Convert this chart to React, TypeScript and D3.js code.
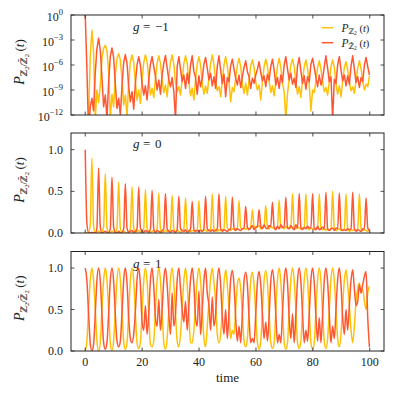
import React from "react";
import * as d3 from "d3";

// time step between samples (half-period 2.35 split in 4)
const timeStep = 0.5875;
const xTickValues = [0, 20, 40, 60, 80, 100];
const logTickExponents = [0, -3, -6, -9, -12];
const linTickValues = [0, 0.5, 1.0];
const gLabels = ["\u22121", "0", "1"];
const seriesColors = ["#FFC107", "#FF5733"];

// g = -1 : log10 of probabilities
const gNeg1YellowLog10 = [
  -14, -14, -12, -5,
  -1.85, -4.5, -12.5, -9, -10.5, -8.5, -5.2, -4.0,
  -3.64, -4.3, -6.8, -12.5, -9.5, -11, -7.2, -5.2,
  -4.64, -5.4, -7.6, -10.8, -9.6, -12.2, -8, -5.6,
  -4.8, -5.7, -8, -10.2, -9, -10.6, -7.8, -5.7,
  -4.8, -5.6, -7.6, -9.6, -8.8, -9.9, -7.6, -5.8,
  -4.9, -5.8, -7.8, -9.3, -8.4, -9.8, -7.4, -5.7,
  -4.8, -5.9, -8.1, -9.2, -8.6, -9.6, -7.8, -5.8,
  -4.9, -5.8, -7.9, -9.7, -8.8, -10.2, -7.7, -5.9,
  -5.0, -6, -8.2, -9.5, -8.5, -9.4, -7.5, -5.9,
  -4.8, -5.9, -7.8, -9.1, -8.6, -9.8, -7.9, -6,
  -5.0, -6.1, -8, -10.4, -8.7, -9.2, -7.6, -6,
  -5.2, -6.2, -8.3, -9.4, -8.2, -9.6, -7.8, -6.1,
  -5.4, -6.3, -8.1, -9, -8.4, -10.2, -7.9, -6.2,
  -5.3, -6.2, -7.9, -9.3, -8.5, -9.7, -8, -6.1,
  -5.2, -6.3, -8.2, -9.2, -12.5, -9.4, -7.7, -6,
  -5.3, -6.2, -8, -9.5, -8.6, -9.9, -7.8, -6.2,
  -5.4, -6.4, -8.3, -11.5, -9, -9.3, -7.9, -6.3,
  -5.5, -6.5, -8.1, -9.2, -8.7, -9.6, -8, -6.2,
  -5.4, -6.3, -8.2, -9.5, -8.5, -9.8, -7.9, -6.3,
  -5.6, -6.6, -8.1, -9.1, -8.6, -9.4, -7.8, -6.4,
  -5.5, -6.4, -8, -9, -8.3, -8.6, -7.3,
];
const gNeg1RedLog10 = [
  0, -6.5, -14, -11, -10, -11.5, -7, -4,
  -2.8, -4.2, -7.5, -11, -9.6, -12.5, -8, -5,
  -3.95, -5.1, -8.3, -11.2, -10, -12, -8.5, -5.7,
  -4.75, -5.8, -8.6, -10.4, -9.2, -11.3, -8.2, -6,
  -5.0, -6, -8.2, -9.6, -8.5, -10.2, -7.8, -5.9,
  -5.0, -6.2, -7.4, -9, -7.8, -9.5, -7.2, -5.8,
  -4.85, -6.3, -7.8, -8.6, -7.5, -9.2, -12.5, -6.2,
  -5.0, -6.5, -8, -7.2, -8.8, -7, -8.2, -6,
  -4.9, -6.8, -7.5, -9.5, -7.3, -8.6, -7.6, -5.9,
  -5.1, -6.4, -7.8, -7, -8.5, -7.4, -8.8, -6.2,
  -4.9, -6.6, -8.2, -7.1, -9.8, -7.5, -8, -6.1,
  -5.3, -6.5, -7.6, -8.4, -7.2, -8.7, -7.4, -6.3,
  -5.5, -6.8, -7.4, -8.8, -7.6, -8.2, -7.2, -6.5,
  -5.6, -6.9, -7.9, -7.3, -8.6, -7.1, -7.8, -6.2,
  -5.3, -6.6, -8.4, -7.5, -8.8, -7.2, -8.1, -6,
  -5.0, -6.5, -7.8, -7, -8.3, -7.6, -8.7, -6.1,
  -5.1, -6.7, -8.2, -7.3, -8.9, -7.4, -8, -5.9,
  -5.2, -6.3, -7.5, -8.6, -7.2, -8.4, -7.6, -6.2,
  -4.9, -6.4, -8, -7.4, -12.5, -7.7, -8.2, -6,
  -5.0, -6.6, -7.9, -7.2, -8.5, -7.3, -8.3, -6.1,
  -4.9, -6.5, -8.1, -7.4, -8.7, -7.5, -8, -6,
  -5.1, -6.2, -7.2,
];

// g = 0
const g0Yellow = [
  0.0, 0.0, 0.01, 0.09,
  0.90, 0.09, 0.0, 0.01, 0.02, 0.0, 0.01, 0.07,
  0.71, 0.07, 0.01, 0.0, 0.02, 0.01, 0.0, 0.06,
  0.61, 0.06, 0.0, 0.02, 0.01, 0.0, 0.02, 0.05,
  0.555, 0.06, 0.01, 0.02, 0.03, 0.01, 0.02, 0.05,
  0.52, 0.05, 0.02, 0.01, 0.02, 0.03, 0.01, 0.05,
  0.48, 0.05, 0.01, 0.02, 0.03, 0.02, 0.02, 0.04,
  0.45, 0.05, 0.02, 0.03, 0.02, 0.01, 0.03, 0.05,
  0.42, 0.04, 0.03, 0.02, 0.03, 0.02, 0.03, 0.04,
  0.39, 0.05, 0.02, 0.04, 0.03, 0.02, 0.03, 0.05,
  0.47, 0.05, 0.03, 0.02, 0.04, 0.03, 0.04, 0.05,
  0.44, 0.06, 0.04, 0.03, 0.05, 0.04, 0.05, 0.06,
  0.39, 0.06, 0.05, 0.06, 0.04, 0.06, 0.05, 0.07,
  0.28, 0.08, 0.06, 0.07, 0.09, 0.05, 0.07, 0.08,
  0.33, 0.07, 0.05, 0.08, 0.06, 0.07, 0.05, 0.07,
  0.40, 0.06, 0.07, 0.05, 0.08, 0.06, 0.07, 0.06,
  0.47, 0.06, 0.05, 0.07, 0.06, 0.05, 0.06, 0.06,
  0.47, 0.05, 0.04, 0.06, 0.05, 0.04, 0.06, 0.05,
  0.47, 0.05, 0.04, 0.05, 0.03, 0.05, 0.04, 0.05,
  0.50, 0.05, 0.03, 0.04, 0.05, 0.03, 0.04, 0.05,
  0.47, 0.05, 0.02, 0.04, 0.03, 0.04, 0.03, 0.05,
  0.47, 0.05, 0.03, 0.04, 0.03, 0.02, 0.04,
];
const g0Red = [
  1.0, 0.12, 0.0, 0.0, 0.01, 0.0, 0.0, 0.06,
  0.78, 0.08, 0.0, 0.01, 0.02, 0.01, 0.0, 0.05,
  0.67, 0.07, 0.01, 0.0, 0.02, 0.0, 0.01, 0.05,
  0.59, 0.06, 0.01, 0.02, 0.03, 0.01, 0.02, 0.05,
  0.55, 0.06, 0.02, 0.01, 0.03, 0.02, 0.01, 0.05,
  0.51, 0.05, 0.01, 0.03, 0.02, 0.01, 0.03, 0.05,
  0.475, 0.05, 0.02, 0.01, 0.03, 0.02, 0.01, 0.04,
  0.44, 0.05, 0.03, 0.02, 0.04, 0.01, 0.02, 0.05,
  0.38, 0.04, 0.02, 0.03, 0.02, 0.03, 0.02, 0.05,
  0.44, 0.05, 0.03, 0.02, 0.04, 0.02, 0.03, 0.05,
  0.47, 0.05, 0.02, 0.04, 0.03, 0.02, 0.04, 0.05,
  0.43, 0.06, 0.03, 0.05, 0.04, 0.03, 0.05, 0.06,
  0.32, 0.07, 0.04, 0.06, 0.09, 0.04, 0.07, 0.08,
  0.28, 0.08, 0.05, 0.1, 0.06, 0.05, 0.09, 0.08,
  0.37, 0.07, 0.04, 0.08, 0.05, 0.1, 0.07, 0.07,
  0.43, 0.06, 0.05, 0.09, 0.06, 0.04, 0.1, 0.06,
  0.475, 0.06, 0.04, 0.07, 0.05, 0.08, 0.06, 0.06,
  0.47, 0.05, 0.04, 0.08, 0.04, 0.05, 0.07, 0.05,
  0.49, 0.05, 0.03, 0.05, 0.06, 0.03, 0.06, 0.05,
  0.48, 0.05, 0.03, 0.04, 0.03, 0.05, 0.04, 0.05,
  0.49, 0.05, 0.02, 0.04, 0.03, 0.02, 0.05, 0.05,
  0.42, 0.06, 0.03,
];

// g = 1
const g1Yellow = [
  0.0, 0.12, 0.5, 0.85,
  1.0, 0.85, 0.5, 0.12, 0.0, 0.1, 0.5, 0.85,
  1.0, 0.85, 0.5, 0.1, 0.0, 0.12, 0.5, 0.86,
  1.0, 0.86, 0.48, 0.12, 0.02, 0.1, 0.48, 0.85,
  1.0, 0.85, 0.45, 0.1, 0.03, 0.1, 0.45, 0.84,
  1.0, 0.84, 0.45, 0.08, 0.05, 0.12, 0.5, 0.85,
  1.0, 0.85, 0.48, 0.1, 0.02, 0.15, 0.5, 0.86,
  1.0, 0.82, 0.45, 0.12, 0.05, 0.2, 0.52, 0.85,
  1.0, 0.8, 0.45, 0.1, 0.1, 0.25, 0.55, 0.86,
  1.0, 0.85, 0.5, 0.15, 0.05, 0.3, 0.6, 0.88,
  1.0, 0.82, 0.6, 0.2, 0.1, 0.2, 0.5, 0.82,
  0.98, 0.8, 0.5, 0.15, 0.25, 0.2, 0.5, 0.8,
  0.88, 0.75, 0.45, 0.12, 0.05, 0.15, 0.5, 0.85,
  0.95, 0.8, 0.45, 0.1, 0.02, 0.12, 0.5, 0.85,
  0.97, 0.82, 0.45, 0.1, 0.03, 0.1, 0.48, 0.85,
  1.0, 0.84, 0.48, 0.12, 0.02, 0.1, 0.5, 0.86,
  1.0, 0.85, 0.5, 0.1, 0.03, 0.12, 0.5, 0.86,
  1.0, 0.85, 0.48, 0.1, 0.02, 0.1, 0.48, 0.85,
  1.0, 0.84, 0.45, 0.12, 0.03, 0.15, 0.5, 0.86,
  1.0, 0.85, 0.5, 0.15, 0.05, 0.2, 0.55, 0.85,
  0.98, 0.8, 0.55, 0.25, 0.1, 0.3, 0.6, 0.75,
  0.82, 0.7, 0.75, 0.6, 0.5, 0.7, 0.78,
];
const g1Red = [
  1.0, 0.85, 0.45, 0.1, 0.0, 0.08, 0.45, 0.85,
  1.0, 0.85, 0.45, 0.1, 0.02, 0.1, 0.45, 0.85,
  1.0, 0.84, 0.44, 0.12, 0.05, 0.12, 0.46, 0.85,
  1.0, 0.82, 0.4, 0.15, 0.1, 0.2, 0.48, 0.86,
  1.0, 0.8, 0.35, 0.25, 0.55, 0.2, 0.45, 0.85,
  1.0, 0.78, 0.4, 0.3, 0.62, 0.25, 0.5, 0.86,
  1.0, 0.8, 0.45, 0.2, 0.7, 0.3, 0.45, 0.85,
  1.0, 0.75, 0.5, 0.35, 0.6, 0.25, 0.55, 0.86,
  1.0, 0.8, 0.4, 0.3, 0.72, 0.2, 0.5, 0.85,
  1.0, 0.7, 0.55, 0.25, 0.65, 0.3, 0.45, 0.84,
  1.0, 0.8, 0.42, 0.2, 0.5, 0.15, 0.48, 0.86,
  0.97, 0.8, 0.4, 0.12, 0.3, 0.1, 0.45, 0.84,
  0.95, 0.8, 0.4, 0.1, 0.15, 0.1, 0.45, 0.83,
  0.96, 0.8, 0.45, 0.15, 0.35, 0.12, 0.42, 0.84,
  0.98, 0.82, 0.45, 0.1, 0.2, 0.1, 0.46, 0.85,
  1.0, 0.82, 0.4, 0.15, 0.45, 0.1, 0.44, 0.85,
  1.0, 0.84, 0.45, 0.1, 0.25, 0.12, 0.45, 0.85,
  1.0, 0.82, 0.42, 0.12, 0.4, 0.1, 0.45, 0.85,
  1.0, 0.83, 0.45, 0.1, 0.3, 0.15, 0.5, 0.86,
  1.0, 0.8, 0.4, 0.2, 0.5, 0.25, 0.55, 0.85,
  0.98, 0.75, 0.55, 0.6, 0.8, 0.7, 0.8, 0.9,
  0.96, 0.4, 0.05,
];

const FONT = "Liberation Serif";
const SYM = "DejaVu Serif";
const INK = "#222";

const xScale = d3.scaleLinear().domain([-5, 105]).range([71, 384]);
const X0 = 71, X1 = 384;

const panelBoxes = [
  { top: 15, bottom: 115 },
  { top: 133, bottom: 233 },
  { top: 251.5, bottom: 351 },
];

function YLabel({ cy }: { cy: number }) {
  return (
    <text transform={`translate(24,${cy}) rotate(-90)`} textAnchor="middle" style={{ fontFamily: FONT, fontSize: 13 }} fill={INK}>
      <tspan style={{ fontStyle: "italic", fontSize: 14 }}>P</tspan>
      <tspan style={{ fontSize: 9, fontFamily: SYM }} dy={3}>{"\u2124"}</tspan>
      <tspan style={{ fontSize: 6.5 }} dy={1.5}>2</tspan>
      <tspan style={{ fontSize: 9 }} dy={-1.5}>/</tspan>
      <tspan style={{ fontSize: 9, fontFamily: SYM }}>{"\u2124\u0304"}</tspan>
      <tspan style={{ fontSize: 6.5 }} dy={1.5}>2</tspan>
      <tspan style={{ fontSize: 13 }} dy={-4.5}>{"\u2009("}</tspan>
      <tspan style={{ fontStyle: "italic", fontSize: 13 }}>t</tspan>
      <tspan style={{ fontSize: 13 }}>)</tspan>
    </text>
  );
}

function LegendLabel({ x, y, bar }: { x: number; y: number; bar: boolean }) {
  return (
    <text x={x} y={y} style={{ fontFamily: FONT, fontSize: 10.5 }} fill={INK}>
      <tspan style={{ fontStyle: "italic", fontSize: 11.5 }}>P</tspan>
      <tspan style={{ fontSize: 7.5, fontFamily: SYM }} dy={2.5}>{bar ? "\u2124\u0304" : "\u2124"}</tspan>
      <tspan style={{ fontSize: 5.5 }} dy={1.2}>2</tspan>
      <tspan style={{ fontSize: 10.5 }} dy={-3.7}>{" ("}</tspan>
      <tspan style={{ fontStyle: "italic", fontSize: 10.5 }}>t</tspan>
      <tspan style={{ fontSize: 10.5 }}>)</tspan>
    </text>
  );
}

function Frame({ top, bottom, yTicks }: { top: number; bottom: number; yTicks: number[] }) {
  const L = 3.5;
  return (
    <g stroke={INK} strokeWidth={0.8}>
      {xTickValues.map((v) => (
        <g key={"x" + v}>
          <line x1={xScale(v)} x2={xScale(v)} y1={bottom} y2={bottom - L} />
          <line x1={xScale(v)} x2={xScale(v)} y1={top} y2={top + L} />
        </g>
      ))}
      {yTicks.map((py, i) => (
        <g key={"y" + i}>
          <line x1={X0} x2={X0 + L} y1={py} y2={py} />
          <line x1={X1} x2={X1 - L} y1={py} y2={py} />
        </g>
      ))}
      <rect x={X0} y={top} width={X1 - X0} height={bottom - top} fill="none" strokeWidth={1} />
    </g>
  );
}

export default function App() {
  const yLog = d3.scaleLog().domain([1e-12, 1]).range([panelBoxes[0].bottom, panelBoxes[0].top]);
  const yLin0 = d3.scaleLinear().domain([0, 1.2]).range([panelBoxes[1].bottom, panelBoxes[1].top]);
  const yLin1 = d3.scaleLinear().domain([0, 1.2]).range([panelBoxes[2].bottom, panelBoxes[2].top]);

  const logLine = d3
    .line<number>()
    .x((_, i) => xScale(i * timeStep))
    .y((d) => yLog(Math.pow(10, d)));
  const lin0 = d3
    .line<number>()
    .x((_, i) => xScale(i * timeStep))
    .y((d) => yLin0(d))
    .curve(d3.curveMonotoneX);
  const lin1 = d3
    .line<number>()
    .x((_, i) => xScale(i * timeStep))
    .y((d) => yLin1(d))
    .curve(d3.curveMonotoneX);

  const panelsSeries = [
    [logLine(gNeg1YellowLog10), logLine(gNeg1RedLog10)],
    [lin0(g0Yellow), lin0(g0Red)],
    [lin1(g1Yellow), lin1(g1Red)],
  ];
  const gBaselines = [31, 148, 268];
  const txt = { fontFamily: FONT, fontSize: 12 };

  return (
    <svg width={396} height={396} style={{ position: "absolute", left: 0, top: 0, background: "#fff" }}>
      <defs>
        {panelBoxes.map((p, i) => (
          <clipPath id={"clip" + i} key={i}>
            <rect x={X0} y={p.top} width={X1 - X0} height={p.bottom - p.top} />
          </clipPath>
        ))}
      </defs>
      <rect x={0} y={0} width={396} height={396} fill="#fff" />

      {panelBoxes.map((p, pi) => (
        <g key={"g" + pi} fill={INK}>
          <text x={133} y={gBaselines[pi]} style={{ fontFamily: FONT, fontSize: 13, fontStyle: "italic" }}>g</text>
          <text x={143} y={gBaselines[pi]} style={{ fontFamily: FONT, fontSize: 13 }}>=</text>
          <text x={155} y={gBaselines[pi]} style={{ fontFamily: FONT, fontSize: 13 }}>{gLabels[pi]}</text>
        </g>
      ))}

      {panelsSeries.map((ser, pi) => (
        <g key={"s" + pi} clipPath={`url(#clip${pi})`} fill="none" strokeWidth={1.5} strokeLinejoin="round">
          {ser.map((d, si) => (
            <path key={si} d={d || ""} stroke={seriesColors[si]} />
          ))}
        </g>
      ))}

      <Frame top={panelBoxes[0].top} bottom={panelBoxes[0].bottom} yTicks={logTickExponents.map((e) => yLog(Math.pow(10, e)))} />
      <Frame top={panelBoxes[1].top} bottom={panelBoxes[1].bottom} yTicks={linTickValues.map((v) => yLin0(v))} />
      <Frame top={panelBoxes[2].top} bottom={panelBoxes[2].bottom} yTicks={linTickValues.map((v) => yLin1(v))} />

      {logTickExponents.map((e) => (
        <text key={"lt" + e} x={63} y={yLog(Math.pow(10, e)) + 5.5} textAnchor="end" style={txt} fill={INK}>
          10<tspan style={{ fontSize: 8.5 }} dy={-5.5}>{e === 0 ? "0" : "\u2212" + Math.abs(e)}</tspan>
        </text>
      ))}
      {[yLin0, yLin1].map((ys, k) =>
        linTickValues.map((v) => (
          <text key={"ll" + k + v} x={63} y={ys(v) + 4} textAnchor="end" style={txt} fill={INK}>
            {v.toFixed(1)}
          </text>
        ))
      )}
      {xTickValues.map((v) => (
        <text key={"xt" + v} x={xScale(v)} y={366} textAnchor="middle" style={txt} fill={INK}>
          {v}
        </text>
      ))}
      <text x={227.5} y={382} textAnchor="middle" style={{ fontFamily: FONT, fontSize: 13 }} fill={INK}>time</text>

      {panelBoxes.map((p, i) => (
        <YLabel key={"yl" + i} cy={(p.top + p.bottom) / 2 - 3} />
      ))}

      <line x1={321.7} x2={333.3} y1={27.7} y2={27.7} stroke={seriesColors[0]} strokeWidth={1.5} />
      <line x1={321.7} x2={333.3} y1={42.7} y2={42.7} stroke={seriesColors[1]} strokeWidth={1.5} />
      <LegendLabel x={341.5} y={31.5} bar={false} />
      <LegendLabel x={341.5} y={46.5} bar={true} />
    </svg>
  );
}
